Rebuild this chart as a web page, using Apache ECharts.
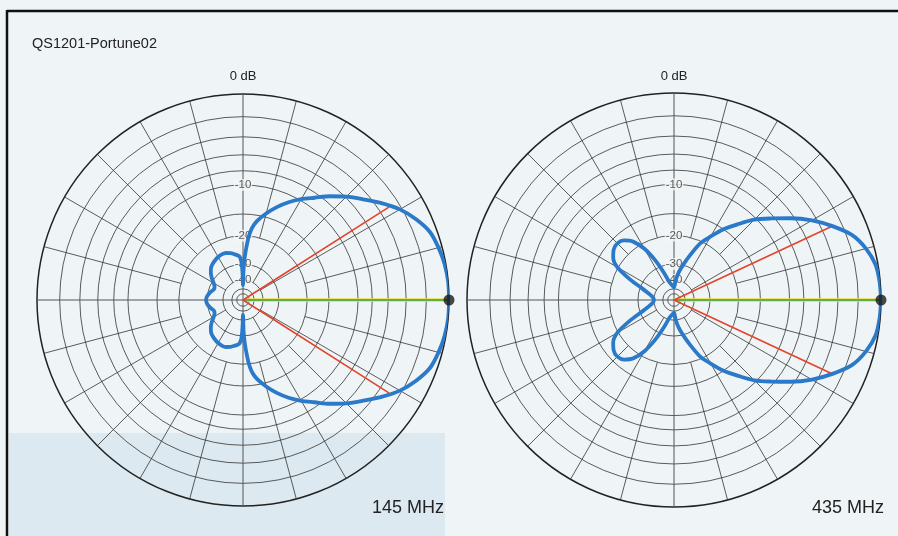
<!DOCTYPE html>
<html>
<head>
<meta charset="utf-8">
<script src="https://cdn.jsdelivr.net/npm/echarts@6/dist/echarts.min.js"></script>
<style>
html, body { margin: 0; padding: 0; background: #eff4f6; }
#chart { width: 898px; height: 536px; }
</style>
</head>
<body>
<div id="chart"></div>
<script>
// ARRL log-periodic radial scale: every -2 dB the radius shrinks by 0.89
const rOf = db => Math.pow(0.89, -db / 2);

const ringLevels = [-2, -4, -6, -8, -10, -15, -20, -30, -40, -50, -60];
const ringLabels = [-10, -20, -30, -40];
const spokeAngles = [15, 30, 45, 60, 75, 105, 120, 135, 150, 165, 195, 210, 225, 240, 255, 285, 300, 315, 330, 345];

// half patterns (0 = forward, 180 = back), mirrored for the lower half
const ang145 = [0, 5, 10, 15, 20, 25, 30, 35, 40, 45, 50, 55, 60, 65, 70, 75, 80, 83, 85, 87, 88, 89, 90,
  91, 92, 93, 95, 100, 105, 110, 115, 120, 125, 130, 135, 140, 145, 150, 155, 160, 165, 170, 175, 180];
const db145 = [0, 0, -0.1, -0.3, -0.6, -1.3, -2.2, -3.4, -4.7, -5.9, -7.2, -8.6, -9.8, -11.1, -12.6, -14.3, -16.2, -18, -20.5, -25, -28, -33, -45,
  -35, -30, -28, -26.5, -25.6, -24.8, -24.3, -24.2, -24.4, -24.8, -25.3, -26, -27.3, -29, -31, -32.3, -32.5, -31.5, -30.5, -29.8, -29.5];

const ang435 = [0, 5, 10, 15, 20, 25, 30, 35, 40, 45, 50, 55, 60, 65, 70, 75, 80, 85, 90,
  95, 100, 105, 110, 115, 120, 125, 130, 135, 140, 145, 150, 155, 160, 165, 170, 175, 180];
const db435 = [0, -0.05, -0.2, -0.7, -1.5, -2.9, -4.5, -6.4, -8.4, -10.3, -12.7, -15, -17.8, -20.5, -25, -29.5, -34, -40, -48,
  -46, -44, -41, -34, -27, -21.5, -18.3, -16.8, -16.3, -16.6, -17.6, -19.8, -25, -31, -35, -38, -39.5, -40];

// -3 dB beamwidth markers
const bw145 = 32.5;
const bw435 = 25;

const FONT = 'Liberation Sans, Arial, sans-serif';
const chart = echarts.init(document.getElementById('chart'));

function closedPattern(angles, dbs) {
  const pts = angles.map((a, i) => [rOf(dbs[i]), a]);
  for (let i = angles.length - 2; i >= 0; i--) pts.push([rOf(dbs[i]), 360 - angles[i]]);
  return pts;
}

function gridSeries(pi) {
  return [
    {
      type: 'custom', coordinateSystem: 'polar', polarIndex: pi, silent: true, z: 1,
      data: ringLevels.map(d => [rOf(d), 0]),
      renderItem: (params, api) => {
        const c = api.coord([0, 0]);
        const p = api.coord([api.value(0), 0]);
        return {
          type: 'circle',
          shape: { cx: c[0], cy: c[1], r: Math.hypot(p[0] - c[0], p[1] - c[1]) },
          style: { fill: 'none', stroke: '#333', lineWidth: 0.8 }
        };
      }
    },
    {
      type: 'custom', coordinateSystem: 'polar', polarIndex: pi, silent: true, z: 1,
      data: spokeAngles.map(a => [1, a]),
      renderItem: (params, api) => {
        const a = api.value(1);
        const inner = a % 30 === 0 ? rOf(-40) : rOf(-20);
        const p0 = api.coord([inner, a]);
        const p1 = api.coord([1, a]);
        return {
          type: 'line',
          shape: { x1: p0[0], y1: p0[1], x2: p1[0], y2: p1[1] },
          style: { stroke: '#333', lineWidth: 0.8 }
        };
      }
    },
    {
      type: 'line', coordinateSystem: 'polar', polarIndex: pi, silent: true, z: 1,
      symbol: 'none', lineStyle: { color: '#555', width: 1 },
      data: [[1, 180], [0, 0], [1, 0]]
    },
    {
      type: 'line', coordinateSystem: 'polar', polarIndex: pi, silent: true, z: 1,
      symbol: 'none', lineStyle: { color: '#555', width: 1 },
      data: [[1, 90], [0, 0], [1, 270]]
    },
    {
      type: 'scatter', coordinateSystem: 'polar', polarIndex: pi, silent: true, z: 3,
      symbolSize: 0,
      data: ringLabels.map(d => [rOf(d), 90, d]),
      label: {
        show: true, position: 'inside', formatter: p => p.value[2],
        fontSize: 11.5, color: '#333', fontFamily: FONT,
        backgroundColor: '#f2f6f7', padding: [0, 1]
      }
    }
  ];
}

function patternSeries(pi, angles, dbs, bw) {
  return [
    {
      type: 'line', coordinateSystem: 'polar', polarIndex: pi, silent: true, z: 4,
      symbol: 'none', lineStyle: { color: '#e6e04a', width: 3.5 },
      data: [[0, 0], [1, 0]]
    },
    {
      type: 'line', coordinateSystem: 'polar', polarIndex: pi, silent: true, z: 5,
      symbol: 'none', lineStyle: { color: '#3a9a4c', width: 1.6 },
      data: [[0, 0], [1, 0]]
    },
    {
      type: 'line', coordinateSystem: 'polar', polarIndex: pi, silent: true, z: 5,
      symbol: 'none', lineStyle: { color: '#e4432c', width: 1.6 },
      data: [[rOf(-3), bw], [0, 0], [rOf(-3), 360 - bw]]
    },
    {
      type: 'line', coordinateSystem: 'polar', polarIndex: pi, silent: true, z: 6,
      symbol: 'none', smooth: 0.3,
      lineStyle: { color: '#2b79c9', width: 3.8 },
      data: closedPattern(angles, dbs)
    },
    {
      type: 'scatter', coordinateSystem: 'polar', polarIndex: pi, silent: true, z: 7,
      symbolSize: 11, itemStyle: { color: '#1a1a1a' },
      data: [[rOf(dbs[0]), 0]]
    }
  ];
}

const angleAxisBase = {
  type: 'value', min: 0, max: 360, startAngle: 0, clockwise: false,
  axisLine: { show: true, lineStyle: { color: '#222', width: 1.5 } },
  axisTick: { show: false }, axisLabel: { show: false }, splitLine: { show: false }
};
const radiusAxisBase = {
  type: 'value', min: 0, max: 1,
  axisLine: { show: false }, axisTick: { show: false }, axisLabel: { show: false }, splitLine: { show: false }
};

const option = {
  backgroundColor: '#eff4f6',
  animation: false,
  polar: [
    { center: [243, 300], radius: 206 },
    { center: [674, 300], radius: 207 }
  ],
  angleAxis: [
    Object.assign({ polarIndex: 0 }, angleAxisBase),
    Object.assign({ polarIndex: 1 }, angleAxisBase)
  ],
  radiusAxis: [
    Object.assign({ polarIndex: 0 }, radiusAxisBase),
    Object.assign({ polarIndex: 1 }, radiusAxisBase)
  ],
  graphic: [
    { type: 'rect', z: -10, shape: { x: 9, y: 433, width: 436, height: 103 }, style: { fill: '#dce9f0' } },
    { type: 'line', shape: { x1: 7, y1: 11, x2: 898, y2: 11 }, style: { stroke: '#111', lineWidth: 2.5 } },
    { type: 'line', shape: { x1: 7, y1: 10, x2: 7, y2: 536 }, style: { stroke: '#111', lineWidth: 2.5 } },
    { type: 'text', x: 32, y: 44, style: { text: 'QS1201-Portune02', font: '14.5px ' + FONT, fill: '#222', textVerticalAlign: 'middle' } },
    { type: 'text', x: 243, y: 76, style: { text: '0 dB', font: '13px ' + FONT, fill: '#222', textAlign: 'center', textVerticalAlign: 'middle' } },
    { type: 'text', x: 674, y: 76, style: { text: '0 dB', font: '13px ' + FONT, fill: '#222', textAlign: 'center', textVerticalAlign: 'middle' } },
    { type: 'text', x: 444, y: 508, style: { text: '145 MHz', font: '18px ' + FONT, fill: '#222', textAlign: 'right', textVerticalAlign: 'middle' } },
    { type: 'text', x: 884, y: 508, style: { text: '435 MHz', font: '18px ' + FONT, fill: '#222', textAlign: 'right', textVerticalAlign: 'middle' } }
  ],
  series: [
    ...gridSeries(0),
    ...gridSeries(1),
    ...patternSeries(0, ang145, db145, bw145),
    ...patternSeries(1, ang435, db435, bw435)
  ]
};
chart.setOption(option);
</script>
</body>
</html>
